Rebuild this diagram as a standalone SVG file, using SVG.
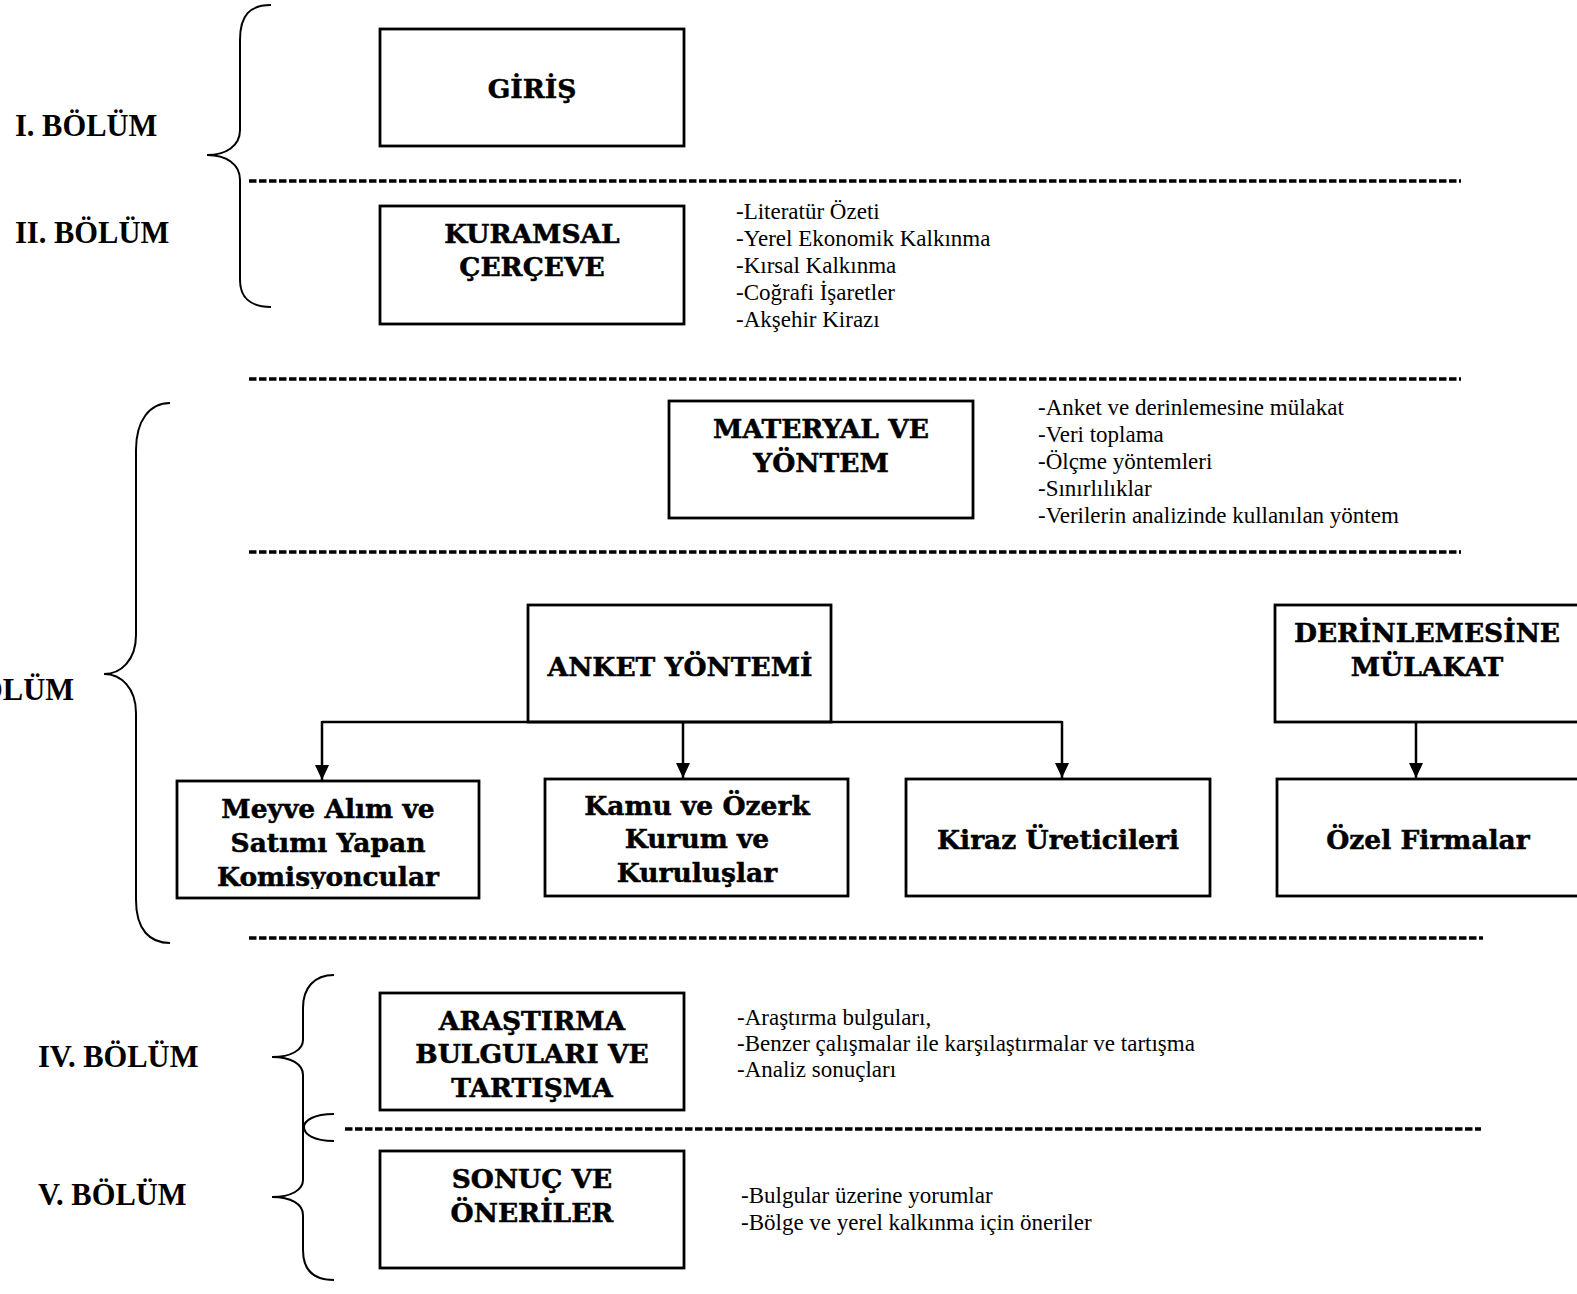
<svg xmlns="http://www.w3.org/2000/svg" width="1577" height="1294" viewBox="0 0 1577 1294">
  <style>
    .box { fill: #fff; stroke: #000; stroke-width: 2.8; }
    .title { font-family: "DejaVu Serif", "Liberation Serif", serif; font-weight: bold; font-size: 26.5px; text-anchor: middle; fill: #000; stroke: #000; stroke-width: 0.5; }
    .sect { font-family: "Liberation Serif", "Times New Roman", serif; font-weight: bold; font-size: 30.5px; fill: #000; }
    .list { font-family: "Liberation Serif", "Times New Roman", serif; font-size: 23px; fill: #000; }
    .dash { stroke: #000; stroke-width: 3.5; stroke-dasharray: 7.5 2.5; fill: none; }
    .brace { fill: none; stroke: #000; stroke-width: 2; }
    .conn { fill: none; stroke: #000; stroke-width: 2.5; }
  </style>
  <defs>
    <!-- filled triangular arrowhead, tip at the end of the line -->
    <marker id="arrow" viewBox="0 0 15 14" refX="15" refY="7" markerWidth="15" markerHeight="14" markerUnits="userSpaceOnUse" orient="auto">
      <path d="M0,0 L15,7 L0,14 Z" fill="#000"/>
    </marker>
    <clipPath id="clipMeyve">
      <rect x="178" y="780" width="300" height="109"/>
    </clipPath>
  </defs>

  <!-- section labels -->
  <g id="section-labels">
    <text class="sect" x="15" y="136">I. BÖLÜM</text>
    <text class="sect" x="15" y="243">II. BÖLÜM</text>
    <text class="sect" x="74" y="700" text-anchor="end">III. BÖLÜM</text>
    <text class="sect" x="38" y="1067">IV. BÖLÜM</text>
    <text class="sect" x="38" y="1205">V. BÖLÜM</text>
  </g>

  <!-- curly braces grouping the chapters -->
  <g id="braces">
    <path class="brace" d="M271,5 C250,5 240,15 240,40 L240,130 C240,146 226,155 207,155 C226,155 240,164 240,180 L240,280 C240,297 250,307 271,307"/>
    <path class="brace" d="M170,403 C150,403 136,420 136,450 L136,635 C136,660 121,674 104,674 C121,674 136,688 136,713 L136,900 C136,930 150,943 170,943"/>
    <path class="brace" d="M334,975 C314,975 303,988 303,1008 L303,1040 C303,1050 291,1057 272,1057 C291,1057 303,1064 303,1075 L303,1180 C303,1190 291,1197 272,1197 C291,1197 303,1204 303,1215 L303,1250 C303,1270 314,1280 334,1280"/>
    <path class="brace" d="M334,1114 C313,1114 304,1121 304,1127 C304,1134 313,1141 334,1141"/>
  </g>

  <!-- dashed separators -->
  <g id="separators">
    <line class="dash" x1="249" y1="181" x2="1461" y2="181"/>
    <line class="dash" x1="249" y1="379" x2="1461" y2="379"/>
    <line class="dash" x1="249" y1="552" x2="1461" y2="552"/>
    <line class="dash" x1="249" y1="938" x2="1483" y2="938"/>
    <line class="dash" x1="345" y1="1129" x2="1481" y2="1129"/>
  </g>

  <!-- nodes -->
  <g id="giris">
    <rect class="box" x="380" y="29" width="304" height="117"/>
    <text class="title" x="532" y="98">GİRİŞ</text>
  </g>

  <g id="kuramsal">
    <rect class="box" x="380" y="206" width="304" height="118"/>
    <text class="title" x="532" y="243">KURAMSAL</text>
    <text class="title" x="532" y="276">ÇERÇEVE</text>
  </g>

  <g id="kuramsal-list">
    <text class="list" x="736" y="219">-Literatür Özeti</text>
    <text class="list" x="736" y="246">-Yerel Ekonomik Kalkınma</text>
    <text class="list" x="736" y="273">-Kırsal Kalkınma</text>
    <text class="list" x="736" y="300">-Coğrafi İşaretler</text>
    <text class="list" x="736" y="327">-Akşehir Kirazı</text>
  </g>

  <g id="materyal">
    <rect class="box" x="669" y="401" width="304" height="117"/>
    <text class="title" x="821" y="438">MATERYAL VE</text>
    <text class="title" x="821" y="472">YÖNTEM</text>
  </g>

  <g id="materyal-list">
    <text class="list" x="1038" y="415">-Anket ve derinlemesine mülakat</text>
    <text class="list" x="1038" y="442">-Veri toplama</text>
    <text class="list" x="1038" y="469">-Ölçme yöntemleri</text>
    <text class="list" x="1038" y="496">-Sınırlılıklar</text>
    <text class="list" x="1038" y="523">-Verilerin analizinde kullanılan yöntem</text>
  </g>

  <g id="anket">
    <rect class="box" x="528" y="605" width="303" height="117"/>
    <text class="title" x="680" y="676">ANKET YÖNTEMİ</text>
  </g>

  <g id="derinlemesine">
    <rect class="box" x="1275" y="605" width="304" height="117"/>
    <text class="title" x="1427" y="642">DERİNLEMESİNE</text>
    <text class="title" x="1427" y="676">MÜLAKAT</text>
  </g>

  <g id="meyve">
    <rect class="box" x="177" y="781" width="302" height="117"/>
    <g clip-path="url(#clipMeyve)">
      <text class="title" x="328" y="818">Meyve Alım ve</text>
      <text class="title" x="328" y="852">Satımı Yapan</text>
      <text class="title" x="328" y="886">Komisyoncular</text>
    </g>
  </g>

  <g id="kamu">
    <rect class="box" x="545" y="779" width="303" height="117"/>
    <text class="title" x="697" y="815">Kamu ve Özerk</text>
    <text class="title" x="697" y="848">Kurum ve</text>
    <text class="title" x="697" y="882">Kuruluşlar</text>
  </g>

  <g id="kiraz">
    <rect class="box" x="906" y="779" width="304" height="117"/>
    <text class="title" x="1058" y="849">Kiraz Üreticileri</text>
  </g>

  <g id="ozel">
    <rect class="box" x="1277" y="779" width="304" height="117"/>
    <text class="title" x="1428" y="849">Özel Firmalar</text>
  </g>

  <g id="arastirma">
    <rect class="box" x="380" y="993" width="304" height="117"/>
    <text class="title" x="532" y="1030">ARAŞTIRMA</text>
    <text class="title" x="532" y="1063">BULGULARI VE</text>
    <text class="title" x="532" y="1097">TARTIŞMA</text>
  </g>

  <g id="arastirma-list">
    <text class="list" x="737" y="1025">-Araştırma bulguları,</text>
    <text class="list" x="737" y="1051">-Benzer çalışmalar ile karşılaştırmalar ve tartışma</text>
    <text class="list" x="737" y="1077">-Analiz sonuçları</text>
  </g>

  <g id="sonuc">
    <rect class="box" x="380" y="1151" width="304" height="117"/>
    <text class="title" x="532" y="1188">SONUÇ VE</text>
    <text class="title" x="532" y="1222">ÖNERİLER</text>
  </g>

  <g id="sonuc-list">
    <text class="list" x="741" y="1203">-Bulgular üzerine yorumlar</text>
    <text class="list" x="741" y="1230">-Bölge ve yerel kalkınma için öneriler</text>
  </g>

  <!-- connectors -->
  <g id="connectors">
    <line class="conn" x1="322" y1="722" x2="1062" y2="722"/>
    <line class="conn" x1="322" y1="721" x2="322" y2="780" marker-end="url(#arrow)"/>
    <line class="conn" x1="683" y1="722" x2="683" y2="778" marker-end="url(#arrow)"/>
    <line class="conn" x1="1062" y1="721" x2="1062" y2="778" marker-end="url(#arrow)"/>
    <line class="conn" x1="1416" y1="722" x2="1416" y2="778" marker-end="url(#arrow)"/>
  </g>
</svg>
